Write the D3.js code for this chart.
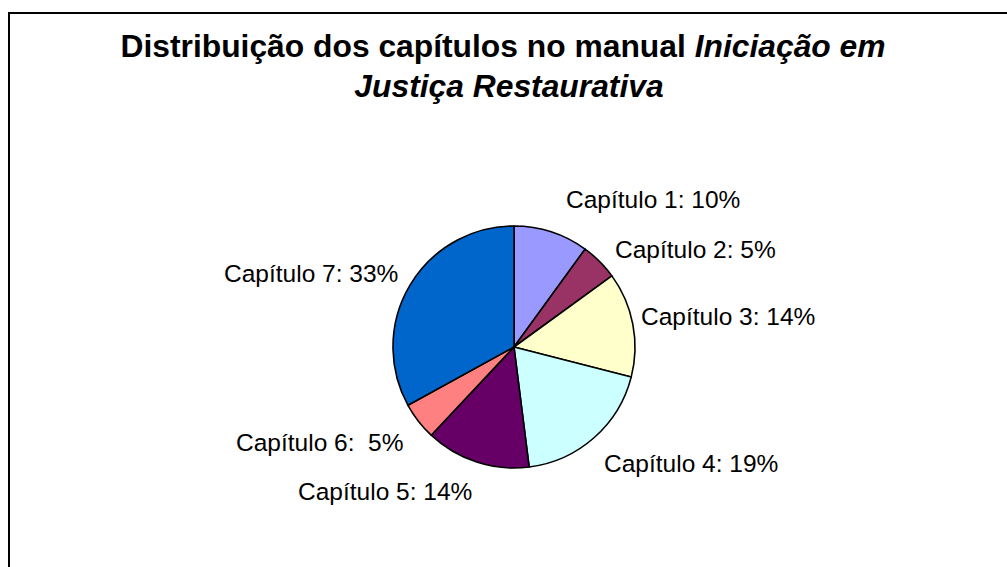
<!DOCTYPE html>
<html><head><meta charset="utf-8">
<script src="https://cdn.jsdelivr.net/npm/d3@7"></script>
<style>body{margin:0;background:#fff}svg{display:block}text{font-family:"Liberation Sans",Arial,sans-serif}</style>
</head><body>
<svg id="c" width="1007" height="567"></svg>
<script>
const categories = ["Capítulo 1","Capítulo 2","Capítulo 3","Capítulo 4","Capítulo 5","Capítulo 6","Capítulo 7"];
const values = [10,5,14,19,14,5,33];
const labelTexts = ["Capítulo 1: 10%","Capítulo 2: 5%","Capítulo 3: 14%","Capítulo 4: 19%","Capítulo 5: 14%","Capítulo 6:  5%","Capítulo 7: 33%"];
const colors = ["#9999FF","#993366","#FFFFCC","#CCFFFF","#660066","#FF8080","#0066CC"];
// label anchor points (left x, baseline y) in page coordinates
const labelPos = [[566,208],[615,258],[641,325],[604,472],[298,500],[236,451],[224,282]];

const svg = d3.select("#c");
svg.append("rect").attr("x",9).attr("y",13).attr("width",1100).attr("height",700)
  .attr("fill","#fff").attr("stroke","#000").attr("stroke-width",2);

const t = svg.append("text").attr("text-anchor","middle").attr("font-size",31.8).attr("font-weight","bold").attr("fill","#000");
const l1 = t.append("tspan").attr("x",503).attr("y",57);
l1.append("tspan").text("Distribuição dos capítulos no manual ");
l1.append("tspan").attr("font-style","italic").text("Iniciação em");
t.append("tspan").attr("x",509).attr("y",97).attr("font-style","italic").text("Justiça Restaurativa");

const cx = 514, cy = 347, r = 121;
const pie = d3.pie().sort(null).value(d=>d)(values);
const arc = d3.arc().innerRadius(0).outerRadius(r);
const g = svg.append("g").attr("transform",`translate(${cx},${cy})`);
g.selectAll("path").data(pie).join("path").attr("d",arc)
  .attr("fill",(d,i)=>colors[i]).attr("stroke","#000").attr("stroke-width",1.6).attr("stroke-linejoin","round");

svg.selectAll("text.lbl").data(labelTexts).join("text").attr("class","lbl")
  .attr("x",(d,i)=>labelPos[i][0]).attr("y",(d,i)=>labelPos[i][1])
  .attr("font-size",24.5).attr("fill","#000").attr("xml:space","preserve")
  .style("white-space","pre").text(d=>d);
</script>
</body></html>
